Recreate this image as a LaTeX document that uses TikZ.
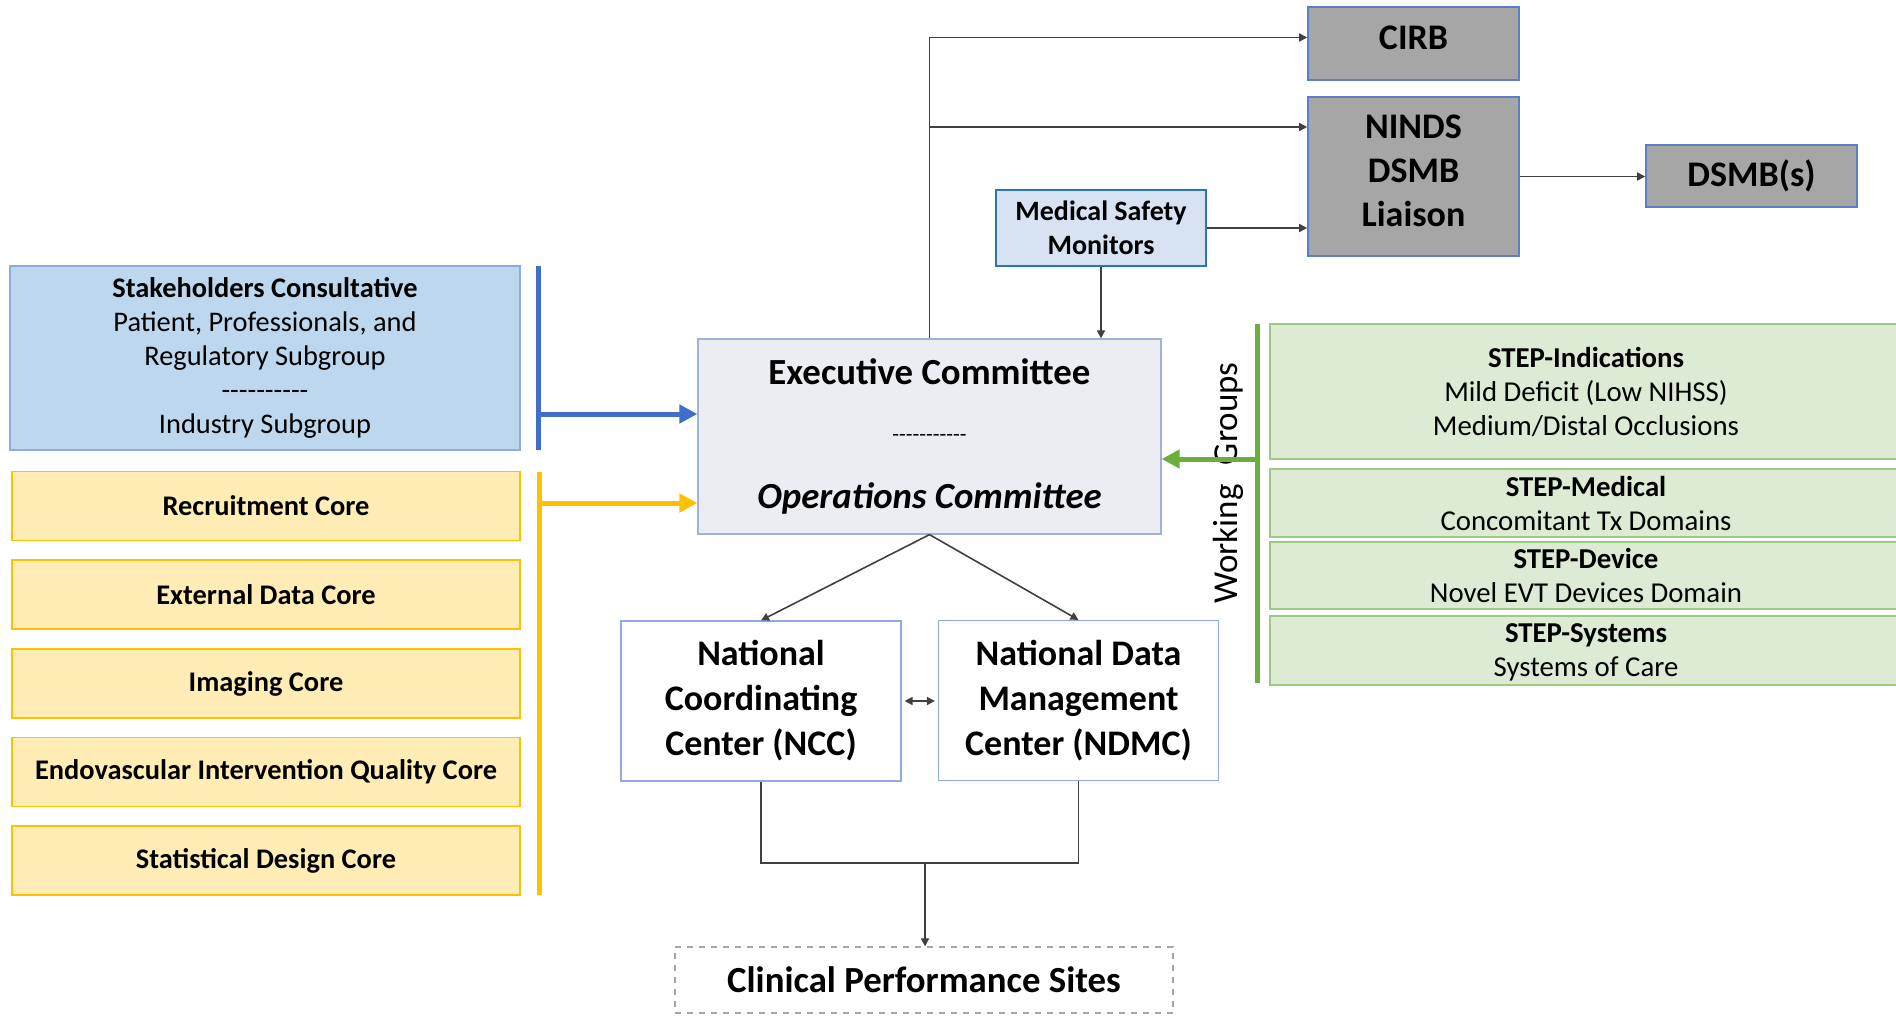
\documentclass[tikz,border=0pt]{standalone}
\usepackage{fontspec}
\setmainfont[Ligatures=TeXOff]{Carlito}
\usetikzlibrary{arrows.meta}
\definecolor{grayfill}{HTML}{A6A6A6}
\definecolor{grayline}{HTML}{5B7FC4}
\definecolor{msmfill}{HTML}{D7E3F3}
\definecolor{msmline}{HTML}{2E75B6}
\definecolor{exefill}{HTML}{ECEDF2}
\definecolor{exeline}{HTML}{9EB2DC}
\definecolor{stkfill}{HTML}{BDD7EE}
\definecolor{stkline}{HTML}{8FAADC}
\definecolor{corefill}{HTML}{FFEDB5}
\definecolor{coreline}{HTML}{FFC000}
\definecolor{wgfill}{HTML}{DDEBD4}
\definecolor{wgline}{HTML}{9CCB82}
\definecolor{bluebar}{HTML}{3F6FCB}
\definecolor{greenbar}{HTML}{6AAF3D}
\definecolor{arrline}{HTML}{404040}
\begin{document}
\begin{tikzpicture}[x=0.5pt,y=-0.5pt,
  box/.style={draw, inner sep=0pt, align=center},
  graybox/.style={box, fill=grayfill, draw=grayline, line width=0.8pt, font=\fontsize{18}{21}\bfseries},
  corebox/.style={box, fill=corefill, draw=coreline, line width=0.8pt, minimum width=254pt, minimum height=34.5pt, font=\fontsize{14.2}{17}\bfseries},
  wgbox/.style={box, fill=wgfill, draw=wgline, line width=0.8pt, minimum width=316pt, font=\fontsize{14.4}{17}\selectfont},
  ctrbox/.style={box, fill=white, draw=stkline, line width=0.6pt, minimum width=140pt, minimum height=80pt, font=\fontsize{18}{22.5}\bfseries},
  arr/.style={draw=arrline, line width=0.8pt, -{Triangle[length=4pt,width=4pt]}},
  bar/.style={line width=2.5pt},
  bararr/.style={line width=2.5pt, -{Triangle[length=9pt,width=9pt]}}]
\useasboundingbox (0,0) rectangle (1896,1017);

% top boxes
\node[graybox, minimum width=105.5pt, minimum height=36.5pt, text depth=6pt] (cirb) at (1413.5,43.5) {CIRB};
\node[graybox, minimum width=105.5pt, minimum height=79.5pt, text depth=6pt, font=\fontsize{18}{22}\bfseries] (ninds) at (1413.5,176.5) {NINDS\\DSMB\\Liaison};
\node[graybox, minimum width=105.5pt, minimum height=31pt] (dsmb) at (1751.5,176) {DSMB(s)};
\node[box, fill=msmfill, draw=msmline, line width=1.1pt, minimum width=105pt, minimum height=38pt, font=\fontsize{14}{17}\bfseries] (msm) at (1101,228) {Medical Safety\\Monitors};

% committees
\node[box, fill=exefill, draw=exeline, line width=0.6pt, minimum width=231.5pt, minimum height=97.5pt, font=\fontsize{18.4}{31}\bfseries] (exe) at (929.5,436.5) {Executive Committee\\{\fontsize{11}{31}\mdseries\raisebox{2.5pt}{-----------}}\\\textit{Operations Committee}};

% left side
\node[box, fill=stkfill, draw=stkline, line width=0.6pt, minimum width=255pt, minimum height=92pt, font=\fontsize{14.2}{17}\selectfont] (stk) at (265,358) {\textbf{Stakeholders Consultative}\\Patient, Professionals, and\\Regulatory Subgroup\\----------\\Industry Subgroup};
\node[corebox] (core1) at (266,506) {Recruitment Core};
\node[corebox] (core2) at (266,594.5) {External Data Core};
\node[corebox] (core3) at (266,683.5) {Imaging Core};
\node[corebox] (core4) at (266,772) {Endovascular Intervention Quality Core};
\node[corebox] (core5) at (266,860.5) {Statistical Design Core};

% working groups
\node[wgbox, minimum height=67.5pt] (wg1) at (1586,391.5) {\textbf{STEP-Indications}\\Mild Deficit (Low NIHSS)\\Medium/Distal Occlusions};
\node[wgbox, minimum height=34pt] (wg2) at (1586,503) {\textbf{STEP-Medical}\\Concomitant Tx Domains};
\node[wgbox, minimum height=33.5pt] (wg3) at (1586,575.5) {\textbf{STEP-Device}\\Novel EVT Devices Domain};
\node[wgbox, minimum height=34.5pt, text depth=0pt] (wg4) at (1586,650.5) {\textbf{STEP-Systems}\\Systems of Care};
\node[rotate=90, inner sep=0pt, font=\fontsize{17.5}{20}\selectfont] (wgt) at (1228,483) {Working\hspace{0.55em}Groups};

% centers
\node[ctrbox] (ncc) at (761,701) {National\\Coordinating\\Center (NCC)};
\node[ctrbox] (ndmc) at (1078.5,700.5) {National Data\\Management\\Center (NDMC)};
\node[box, draw=gray!70, dashed, line width=0.6pt, minimum width=249pt, minimum height=33pt, font=\fontsize{18.4}{20}\bfseries] (cps) at (924,980) {Clinical Performance Sites};

% connectors
\draw[arr] (exe.north) |- ([yshift=3pt]cirb.west);
\draw[arr] (exe.north) |- ([yshift=24.75pt]ninds.west);
\draw[arr] (msm.east) -- (msm.east -| ninds.west);
\draw[arr] (msm.south) -- (msm.south |- exe.north);
\draw[arr] (ninds.east) -- (ninds.east -| dsmb.west);
\draw[arr] (exe.south) -- (ncc.north);
\draw[arr] (exe.south) -- (ndmc.north);
\draw[draw=arrline, line width=0.8pt, {Triangle[length=4pt,width=4pt]}-{Triangle[length=4pt,width=4pt]}, shorten <=1.5pt, shorten >=1.5pt] (ncc.east) -- (ndmc.west |- ncc.east);
\coordinate (jn) at (925,863);
\draw[draw=arrline, line width=0.8pt] (ncc.south) |- (jn) -| (ndmc.south);
\draw[arr] (jn) -- (jn |- cps.north);

% coloured bars
\coordinate (bl) at (538,414);
\draw[bar, bluebar] (538,266) -- (538,450);
\draw[bararr, bluebar] (bl) -- (bl -| exe.west);
\coordinate (yl) at (539,503);
\draw[bar, coreline] (539,472) -- (539,895);
\draw[bararr, coreline] (yl) -- (yl -| exe.west);
\coordinate (gl) at (1257,459);
\draw[bar, greenbar] (1257,324) -- (1257,683);
\draw[bararr, greenbar] (gl) -- (gl -| exe.east);

\end{tikzpicture}
\end{document}
